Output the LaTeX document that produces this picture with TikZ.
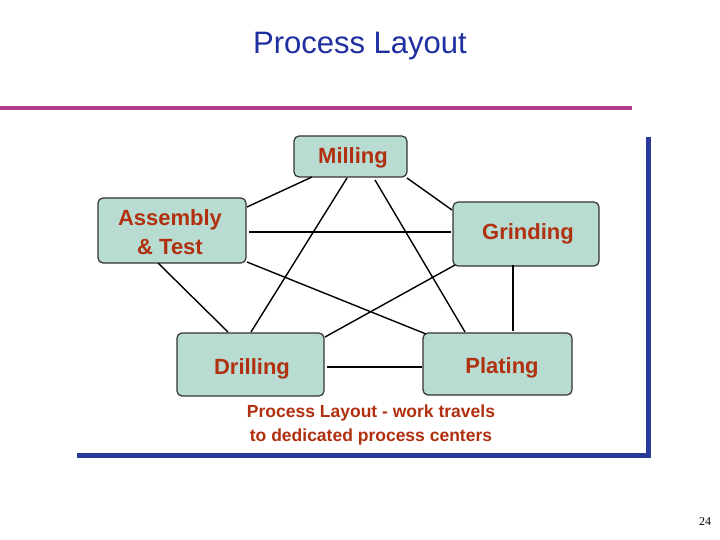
\documentclass[tikz,border=0pt]{standalone}
\usepackage{fontspec}
\setmainfont{Liberation Sans}
\newfontfamily\serif{Liberation Serif}
\definecolor{boxfill}{HTML}{B8DCD2}
\definecolor{lbl}{HTML}{B0300F}
\definecolor{ttl}{HTML}{1F2F9F}
\definecolor{mag}{HTML}{B03C8C}
\definecolor{frm}{HTML}{2A3A9A}
\begin{document}
\begin{tikzpicture}[x=1pt,y=-1pt,
  dept/.style={draw=black!80,line width=1.2pt,fill=boxfill,rounded corners=5pt},
  lab/.style={text=lbl,font=\bfseries\fontsize{22}{29}\selectfont,align=center},
  link/.style={line width=1.4pt,black}]
\useasboundingbox (0,0) rectangle (720,540);
\fill[white] (0,0) rectangle (720,540);
\node[text=ttl,font=\fontsize{31}{36}\selectfont] (title) at (360,46) {Process Layout};
\draw[mag,line width=4pt] (0,108) -- (632,108);
\draw[frm,line width=5pt] (648,137) -- (648,455) -- (77,455);
\path[dept] (294,136) rectangle (407,177);
\node[lab] (mil) at (353,158) {Milling};
\path[dept] (98,198) rectangle (246,263);
\node[lab] (asm) at (170,232) {Assembly\\\& Test};
\path[dept] (453,202) rectangle (599,266);
\node[lab] (grd) at (528,234) {Grinding};
\path[dept] (177,333) rectangle (324,396);
\node[lab] (drl) at (252,369) {Drilling};
\path[dept] (423,333) rectangle (572,395);
\node[lab] (plt) at (502,368) {Plating};
\coordinate (a1) at (312,177); \coordinate (a2) at (247,207);
\coordinate (b1) at (407,178); \coordinate (b2) at (452,210);
\coordinate (c1) at (347,178); \coordinate (c2) at (251,332);
\coordinate (d1) at (375,180); \coordinate (d2) at (465,332);
\coordinate (e1) at (249,232); \coordinate (e2) at (451,232);
\coordinate (f1) at (247,262); \coordinate (f2) at (426,334);
\coordinate (g1) at (158,263); \coordinate (g2) at (228,332);
\coordinate (h1) at (455,265); \coordinate (h2) at (325,337);
\coordinate (i1) at (513,265); \coordinate (i2) at (513,331);
\coordinate (j1) at (327,367); \coordinate (j2) at (422,367);
\foreach \p in {a,b,c,d,e,f,g,h,i,j}{\draw[link] (\p1) -- (\p2);}
\node[text=lbl,font=\bfseries\fontsize{17.5}{24}\selectfont,align=center] (cap) at (371,425) {Process Layout - work travels\\to dedicated process centers};
\node[font=\serif\fontsize{12}{14}\selectfont] (pg) at (705,522) {24};
\end{tikzpicture}
\end{document}
